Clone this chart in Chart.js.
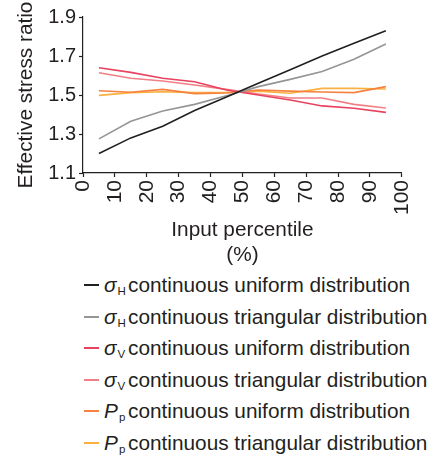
<!DOCTYPE html>
<html>
<head>
<meta charset="utf-8">
<script src="https://cdn.jsdelivr.net/npm/chart.js@4"></script>
<style>
  body { margin: 0; background: #fff; }
  #wrap { position: relative; width: 430px; height: 457px; font-family: "Liberation Sans", Arial, sans-serif; color: #231f20; }
  #chart { position: absolute; left: 0; top: 0; }
  .row { position: absolute; left: 0; height: 26px; width: 430px; font-size: 20.8px; line-height: 26px; white-space: nowrap; }
  .row .swatch { position: absolute; left: 84px; top: 12px; width: 15px; height: 2px; }
  .row .sym { position: absolute; left: 104px; top: 0; font-style: italic; }
  .row .sym sub { font-style: normal; font-size: 11.5px; vertical-align: -3px; margin-left: 1px; }
  .row .txt { position: absolute; left: 128px; top: 0; }
</style>
</head>
<body>
<div id="wrap">
  <canvas id="chart" width="430" height="270"></canvas>
  <div id="legend"></div>
</div>
<script>
// x positions (input percentile, %)
const percentiles = [5, 15, 25, 35, 45, 55, 65, 75, 85, 95];

// effective stress ratio per series
const sigmaHUniform    = [1.200, 1.280, 1.340, 1.420, 1.490, 1.560, 1.630, 1.700, 1.765, 1.830];
const sigmaHTriangular = [1.275, 1.365, 1.418, 1.452, 1.496, 1.543, 1.580, 1.620, 1.683, 1.762];
const sigmaVUniform    = [1.640, 1.616, 1.586, 1.568, 1.526, 1.500, 1.474, 1.444, 1.432, 1.411];
const sigmaVTriangular = [1.614, 1.586, 1.572, 1.551, 1.529, 1.505, 1.485, 1.485, 1.452, 1.433];
const ppUniform        = [1.522, 1.514, 1.529, 1.507, 1.510, 1.526, 1.520, 1.515, 1.512, 1.543];
const ppTriangular     = [1.498, 1.512, 1.517, 1.512, 1.514, 1.520, 1.509, 1.534, 1.534, 1.531];

const symbols   = ['σ', 'σ', 'σ', 'σ', 'P', 'P'];
const subs      = ['H', 'H', 'V', 'V', 'p', 'p'];
const labels    = ['continuous uniform distribution', 'continuous triangular distribution',
                   'continuous uniform distribution', 'continuous triangular distribution',
                   'continuous uniform distribution', 'continuous triangular distribution'];
const colors    = ['#231f20', '#939598', '#e8425e', '#f07f86', '#f5823f', '#fbb040'];
const series    = [sigmaHUniform, sigmaHTriangular, sigmaVUniform, sigmaVTriangular, ppUniform, ppTriangular];

const yTicks = [1.1, 1.3, 1.5, 1.7, 1.9];
const xTitle = ['Input percentile', '(%)'];
const yTitle = 'Effective stress ratio';

const ink = '#231f20';
const font = { family: '"Liberation Sans", Arial, sans-serif' };

const datasets = series.map(function (vals, i) {
    return {
        label: symbols[i] + subs[i] + ' ' + labels[i],
        data: vals.map(function (v, j) { return { x: percentiles[j], y: v }; }),
        borderColor: colors[i],
        backgroundColor: colors[i],
        borderWidth: 1.6,
        pointRadius: 0,
        tension: 0
    };
});

var ctx = document.getElementById('chart').getContext('2d');
var chart = new Chart(ctx, {
    type: 'line',
    data: { datasets: datasets },
    options: {
        responsive: false,
        animation: false,
        layout: { padding: { top: 17, right: 15, left: 0, bottom: 0 } },
        plugins: { legend: { display: false }, tooltip: { enabled: false } },
        scales: {
            x: {
                type: 'linear',
                min: 0, max: 100,
                afterFit: function (s) { s.height = 97; },
                border: { display: true, color: ink, width: 1.2 },
                grid: { drawOnChartArea: false, drawTicks: true, tickLength: 4, color: ink, tickWidth: 1.2 },
                ticks: {
                    stepSize: 10, minRotation: 90, maxRotation: 90, padding: 3,
                    color: ink, font: Object.assign({ size: 21 }, font)
                },
                title: {
                    display: true, text: xTitle, color: ink,
                    font: Object.assign({ size: 20.8, lineHeight: 1.2 }, font),
                    padding: { top: 0, bottom: 2.5 }
                }
            },
            y: {
                min: 1.1, max: 1.9,
                afterFit: function (s) { s.width = 83; },
                border: { display: true, color: ink, width: 1.2 },
                grid: { drawOnChartArea: false, drawTicks: true, tickLength: 4, color: ink, tickWidth: 1.2 },
                ticks: {
                    stepSize: 0.1, padding: 3, color: ink,
                    font: Object.assign({ size: 20 }, font),
                    callback: function (v) {
                        var r = Math.round(v * 10) / 10;
                        return yTicks.some(function (t) { return Math.abs(t - r) < 1e-6; }) ? r.toFixed(1) : '';
                    }
                },
                title: {
                    display: true, text: yTitle, color: ink,
                    font: Object.assign({ size: 20.8, lineHeight: 1.2 }, font),
                    padding: { top: 13.5, bottom: 0 }
                }
            }
        }
    }
});

// legend with subscripts
var legend = document.getElementById('legend');
var rowTop = 272;
var rowStep = 31.6;
series.forEach(function (vals, i) {
    var row = document.createElement('div');
    row.className = 'row';
    row.style.top = (rowTop + i * rowStep) + 'px';
    row.innerHTML = '<span class="swatch" style="background:' + colors[i] + '"></span>' +
        '<span class="sym">' + symbols[i] + '<sub>' + subs[i] + '</sub></span>' +
        '<span class="txt">' + labels[i] + '</span>';
    legend.appendChild(row);
});
</script>
</body>
</html>
